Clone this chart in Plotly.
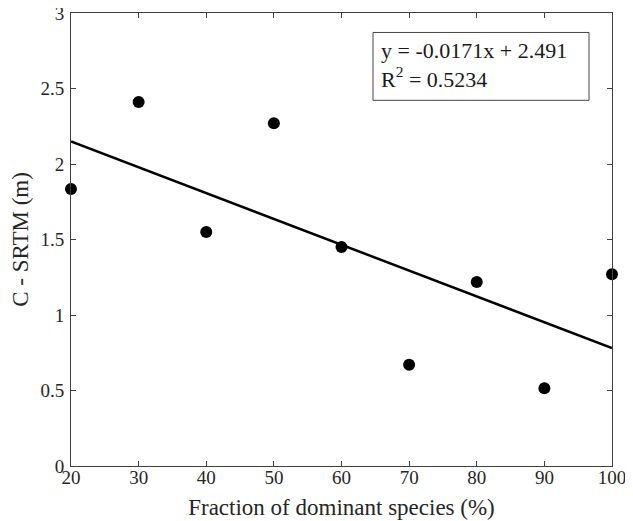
import plotly.graph_objects as go

fraction = [20, 30, 40, 50, 60, 70, 80, 90, 100]
c_srtm = [1.835, 2.41, 1.55, 2.27, 1.45, 0.67, 1.218, 0.515, 1.27]
slope = -0.0171
intercept = 2.491
r2 = 0.5234
x_ticks = [20, 30, 40, 50, 60, 70, 80, 90, 100]
y_ticks = [0, 0.5, 1, 1.5, 2, 2.5, 3]
y_tick_text = ["0", "0.5", "1", "1.5", "2", "2.5", "3"]

fit_x = [min(fraction), max(fraction)]
fit_y = [slope * v + intercept for v in fit_x]

FONT = "Liberation Serif, Times New Roman, serif"
AX = "#404040"

# page body has an 8px default margin; plot area target (window px): 71..612 x 12.5..466.5
fig = go.Figure()
fig.add_trace(go.Scatter(x=fit_x, y=fit_y, mode="lines",
                         line=dict(color="black", width=2.5),
                         showlegend=False, hoverinfo="skip"))
fig.add_trace(go.Scatter(x=fraction, y=c_srtm, mode="markers",
                         marker=dict(color="black", size=12),
                         cliponaxis=False, showlegend=False))

axis_common = dict(showline=True, linecolor=AX, linewidth=1, mirror="ticks",
                   ticks="inside", ticklen=5, tickcolor=AX, tickwidth=1,
                   showgrid=False, zeroline=False, automargin=False,
                   ticklabeloverflow="allow",
                   tickfont=dict(family=FONT, size=19, color="#262626"),
                   title_font=dict(family=FONT, size=23, color="#262626"))

fig.update_xaxes(range=[20, 100], tickvals=x_ticks,
                 title_text="Fraction of dominant species (%)",
                 title_standoff=12, ticklabelstandoff=-6, **axis_common)
fig.update_yaxes(range=[0, 3], tickvals=y_ticks, ticktext=y_tick_text,
                 title_text="C - SRTM (m)", title_standoff=10,
                 ticklabelstandoff=2, **axis_common)

fig.add_shape(type="rect", xref="paper", yref="paper",
              x0=(373 - 71) / 541, x1=(589 - 71) / 541,
              y0=(466.5 - 100) / 454, y1=(466.5 - 32) / 454,
              line=dict(color="#444444", width=1), fillcolor="white", layer="above")
fig.add_annotation(xref="paper", yref="paper",
                   x=(379 - 71) / 541, y=(466.5 - 36) / 454,
                   xanchor="left", yanchor="top", align="left", showarrow=False,
                   text=f"y = {slope}x + {intercept}<br>R<sup>2</sup> = {r2}",
                   font=dict(family=FONT, size=22, color="#1a1a1a"))

fig.update_layout(width=625, height=513,
                  margin=dict(l=63, r=21, t=4.5, b=54.5),
                  plot_bgcolor="white", paper_bgcolor="white",
                  font=dict(family=FONT))

fig.write_html("out.html")
